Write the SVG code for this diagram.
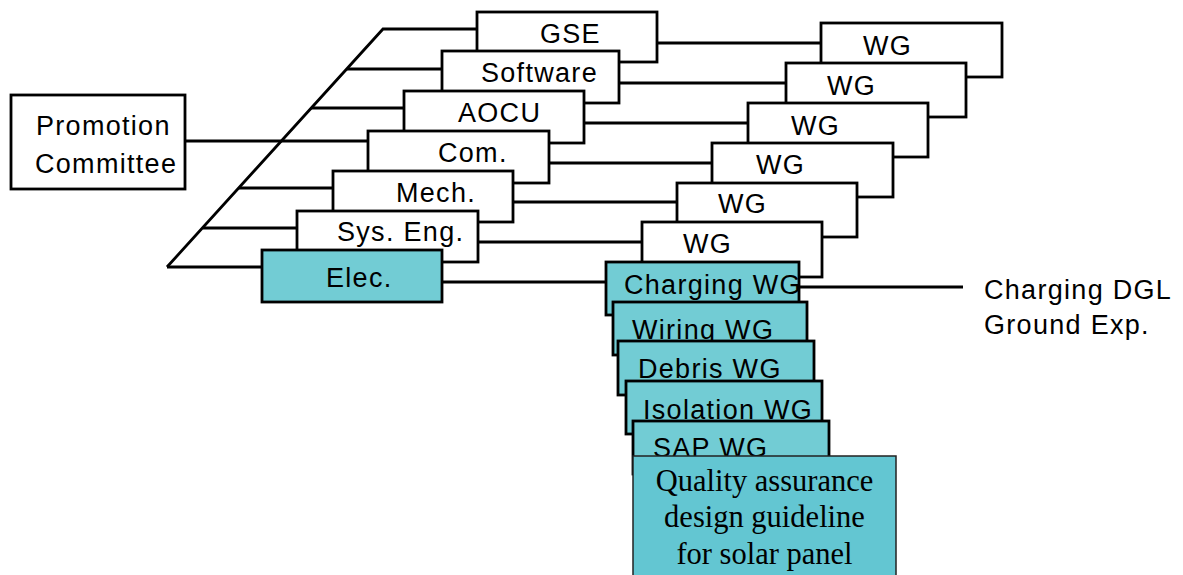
<svg xmlns="http://www.w3.org/2000/svg" width="1183" height="575" viewBox="0 0 1183 575">
<style>
.b{fill:#fff;stroke:#000;stroke-width:2.8}
.t{fill:#72CCD4;stroke:#000;stroke-width:2.8}
.q{fill:#63C6D2;stroke:#222;stroke-width:1.5}
.l{fill:none;stroke:#000;stroke-width:2.8}
text{font-family:"Liberation Sans",Arial,sans-serif;font-size:27px;letter-spacing:1.3px;fill:#000}
.s{font-family:"Liberation Serif","Times New Roman",serif;font-size:30.5px;letter-spacing:0;text-anchor:middle}
</style>
<rect width="1183" height="575" fill="#fff"/>
<g id="connectors">
<polyline class="l" points="167,267 383,29 477,29"/>
<line class="l" x1="347" y1="69" x2="442" y2="69"/>
<line class="l" x1="311" y1="108" x2="404" y2="108"/>
<line class="l" x1="185" y1="141" x2="368" y2="141"/>
<line class="l" x1="239" y1="188" x2="333" y2="188"/>
<line class="l" x1="203" y1="228" x2="297" y2="228"/>
<line class="l" x1="167" y1="267" x2="262" y2="267"/>
<line class="l" x1="657" y1="43" x2="821" y2="43"/>
<line class="l" x1="619" y1="83" x2="786" y2="83"/>
<line class="l" x1="584" y1="123" x2="748" y2="123"/>
<line class="l" x1="549" y1="163" x2="712" y2="163"/>
<line class="l" x1="513" y1="202" x2="677" y2="202"/>
<line class="l" x1="478" y1="242" x2="642" y2="242"/>
<line class="l" x1="442" y1="282" x2="606" y2="282"/>
</g>
<g id="promotion"><rect class="b" x="11" y="95" width="174" height="94"/><text x="36" y="135">Promotion</text><text x="35" y="173">Committee</text></g>
<g id="gse"><rect class="b" x="477" y="12" width="180" height="50"/><text x="540" y="43">GSE</text></g>
<g id="software"><rect class="b" x="442" y="51" width="177" height="52"/><text x="481" y="82">Software</text></g>
<g id="aocu"><rect class="b" x="404" y="91" width="180" height="52"/><text x="458" y="122">AOCU</text></g>
<g id="com"><rect class="b" x="368" y="131" width="181" height="52"/><text x="438" y="162">Com.</text></g>
<g id="mech"><rect class="b" x="333" y="171" width="180" height="51"/><text x="396" y="202">Mech.</text></g>
<g id="syseng"><rect class="b" x="297" y="211" width="181" height="51"/><text x="337" y="241">Sys. Eng.</text></g>
<g id="elec"><rect class="t" x="262" y="250" width="180" height="52"/><text x="326" y="287">Elec.</text></g>
<g id="wg1"><rect class="b" x="821" y="23" width="181" height="54"/><text x="863" y="55">WG</text></g>
<g id="wg2"><rect class="b" x="786" y="63" width="180" height="54"/><text x="827" y="95">WG</text></g>
<g id="wg3"><rect class="b" x="748" y="103" width="180" height="54"/><text x="791" y="135">WG</text></g>
<g id="wg4"><rect class="b" x="712" y="143" width="181" height="54"/><text x="756" y="174">WG</text></g>
<g id="wg5"><rect class="b" x="677" y="183" width="180" height="54"/><text x="718" y="213">WG</text></g>
<g id="wg6"><rect class="b" x="642" y="222" width="180" height="55"/><text x="683" y="253">WG</text></g>
<g id="charging"><rect class="t" x="606" y="262" width="193" height="53"/><text x="624" y="294">Charging WG</text><line class="l" x1="799" y1="287" x2="963" y2="287"/></g>
<g id="wiring"><rect class="t" x="613" y="302" width="194" height="53"/><text x="632" y="339">Wiring WG</text></g>
<g id="debris"><rect class="t" x="618" y="341" width="196" height="54"/><text x="638" y="378">Debris WG</text></g>
<g id="isolation"><rect class="t" x="626" y="381" width="196" height="53"/><text x="643" y="419">Isolation WG</text></g>
<g id="sap"><rect class="t" x="633" y="421" width="196" height="53"/><text x="653" y="457">SAP WG</text></g>
<g id="qa"><rect class="q" x="633" y="456" width="263" height="125"/><text class="s" x="764.5" y="491">Quality assurance</text><text class="s" x="764.5" y="527">design guideline</text><text class="s" x="764.5" y="564">for solar panel</text></g>
<g id="dgl"><text x="984" y="299">Charging DGL</text><text x="984" y="334">Ground Exp.</text></g>
</svg>
